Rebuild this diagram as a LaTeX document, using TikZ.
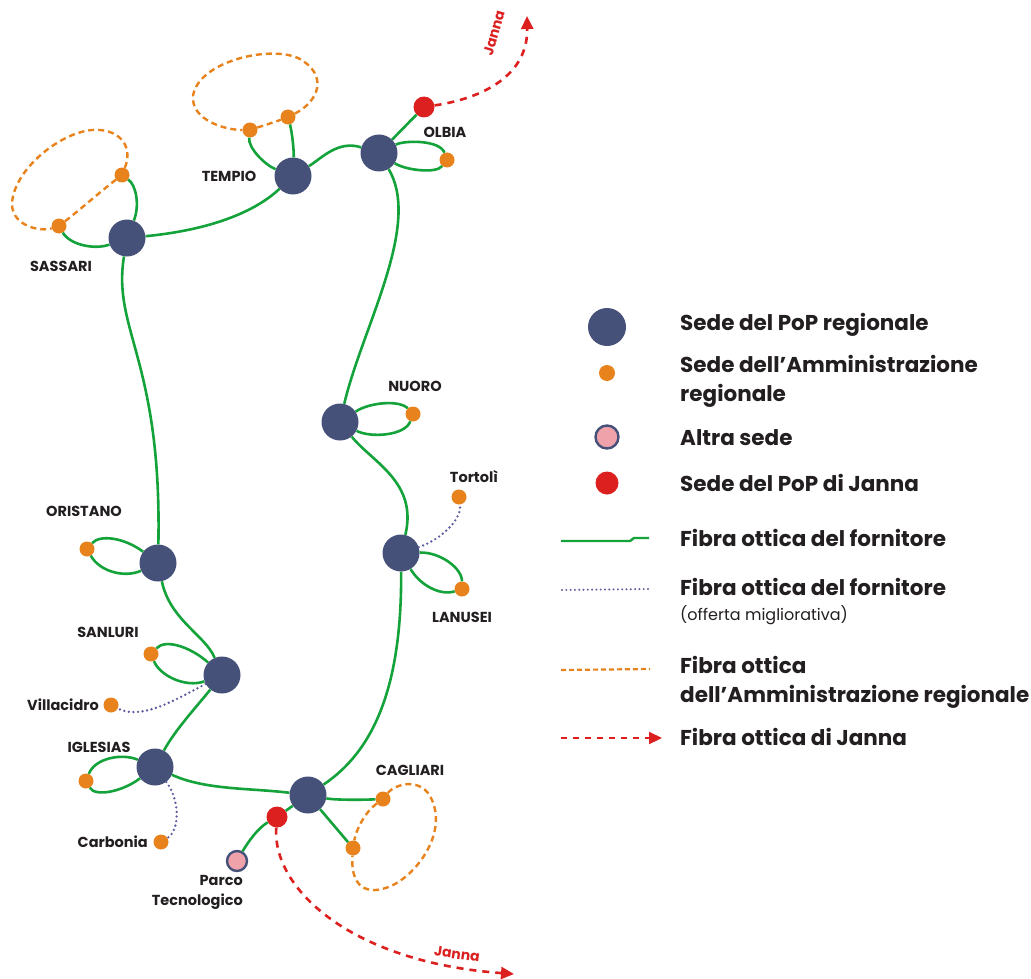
\documentclass[tikz,border=0pt]{standalone}
\usepackage{fontspec}
\setmainfont{Poppins}
\usetikzlibrary{arrows.meta}
\definecolor{popblue}{HTML}{46517A}
\definecolor{admorange}{HTML}{E8821C}
\definecolor{janred}{HTML}{DC1F1F}
\definecolor{altpink}{HTML}{F0A2AA}
\definecolor{fibgreen}{HTML}{14A23A}
\definecolor{impblue}{HTML}{5C5C9E}
\definecolor{ink}{HTML}{231F20}
\begin{document}
\begin{tikzpicture}[x=1pt,y=-1pt,
  pop/.style={circle,fill=popblue,minimum size=37pt,inner sep=0pt},
  adm/.style={circle,fill=admorange,minimum size=15pt,inner sep=0pt},
  jan/.style={circle,fill=janred,minimum size=21pt,inner sep=0pt},
  alt/.style={circle,fill=altpink,draw=popblue,line width=2.4pt,minimum size=20pt,inner sep=0pt},
  fib/.style={draw=fibgreen,line width=2.6pt},
  imp/.style={draw=impblue,line width=2.6pt,dash pattern=on 0pt off 4.6pt,line cap=round},
  ras/.style={draw=admorange,line width=2.4pt,dash pattern=on 6pt off 4pt},
  jln/.style={draw=janred,line width=2.6pt,dash pattern=on 7pt off 6pt,-{Triangle[length=13pt,width=12pt]}},
  lbl/.style={font=\fontsize{14.5}{16}\selectfont\bfseries,text=ink,inner sep=0pt},
  lgd/.style={font=\fontsize{21.5}{29}\selectfont\bfseries,text=ink,anchor=west,align=left,inner sep=0pt},
  lgdsub/.style={font=\fontsize{16}{20}\selectfont,text=ink,anchor=west,inner sep=0pt},
  jlbl/.style={font=\fontsize{14}{16}\selectfont\bfseries,text=janred,inner sep=0pt}]
\useasboundingbox (0,0) rectangle (1031,979);

% regional PoP sites
\node[pop] (sas) at (127,238) {};
\node[pop] (tem) at (293,176) {};
\node[pop] (olb) at (379,153) {};
\node[pop] (nuo) at (340,422) {};
\node[pop] (lan) at (401,553) {};
\node[pop] (ori) at (158,563) {};
\node[pop] (san) at (222,675) {};
\node[pop] (igl) at (155,767) {};
\node[pop] (cag) at (308,795) {};

% regional administration sites
\node[adm] (sas1) at (122,175) {};
\node[adm] (sas2) at (59,226) {};
\node[adm] (tem1) at (250,130) {};
\node[adm] (tem2) at (288,117) {};
\node[adm] (olb1) at (447,160) {};
\node[adm] (nuo1) at (413,414) {};
\node[adm] (tor)  at (459,497) {};
\node[adm] (lan1) at (462,589) {};
\node[adm] (ori1) at (87,549) {};
\node[adm] (san1) at (151,654) {};
\node[adm] (vil)  at (111,705) {};
\node[adm] (igl1) at (86,781) {};
\node[adm] (car)  at (161,842) {};
\node[adm] (cag1) at (383,799) {};
\node[adm] (cag2) at (353,848) {};

% Janna PoP sites and other site
\node[jan] (olbJ) at (424,107) {};
\node[jan] (cagJ) at (277,817) {};
\node[alt] (parco) at (237,861) {};

% supplier fibre backbone
\draw[fib] (sas) .. controls (210,230) and (255,212) .. (tem);
\draw[fib] (tem) .. controls (322,158) and (338,140) .. (olb);
\draw[fib] (sas) .. controls (112,330) and (162,360) .. (ori);
\draw[fib] (ori) .. controls (170,620) and (205,635) .. (san);
\draw[fib] (san) .. controls (198,705) and (175,730) .. (igl);
\draw[fib] (igl) .. controls (205,790) and (250,788) .. (cag);
\draw[fib] (cag) .. controls (372,752) and (402,690) .. (lan);
\draw[fib] (lan) .. controls (418,482) and (372,462) .. (nuo);
\draw[fib] (nuo) .. controls (362,328) and (422,225) .. (olb);
\draw[fib] (olb) -- (olbJ);
\draw[fib] (cag) -- (cagJ);
\draw[fib] (cagJ) .. controls (258,828) and (248,842) .. (parco);
\draw[fib] (cag) .. controls (335,800) and (360,800) .. (cag1);
\draw[fib] (cag) -- (cag2);

% supplier fibre to local sites
\draw[fib] (sas) .. controls (140,205) and (136,185) .. (sas1);
\draw[fib] (sas) .. controls (95,250) and (70,245) .. (sas2);
\draw[fib] (tem) .. controls (265,165) and (248,148) .. (tem1);
\draw[fib] (tem) .. controls (294,150) and (292,132) .. (tem2);
\draw[fib] (olb) .. controls (405,140) and (440,140) .. (olb1);
\draw[fib] (olb) .. controls (405,170) and (436,174) .. (olb1);
\draw[fib] (nuo) .. controls (370,402) and (400,400) .. (nuo1);
\draw[fib] (nuo) .. controls (370,438) and (405,436) .. (nuo1);
\draw[fib] (lan) .. controls (440,552) and (462,568) .. (lan1);
\draw[fib] (lan) .. controls (420,585) and (440,596) .. (lan1);
\draw[fib] (ori) .. controls (125,538) and (100,534) .. (ori1);
\draw[fib] (ori) .. controls (125,578) and (100,572) .. (ori1);
\draw[fib] (san) .. controls (192,648) and (166,638) .. (san1);
\draw[fib] (san) .. controls (186,688) and (160,676) .. (san1);
\draw[fib] (igl) .. controls (122,753) and (95,758) .. (igl1);
\draw[fib] (igl) .. controls (122,792) and (95,797) .. (igl1);

% improvement offer links
\draw[imp] (lan) .. controls (440,540) and (462,520) .. (tor);
\draw[imp] (san) .. controls (172,702) and (140,720) .. (vil);
\draw[imp] (igl) .. controls (180,800) and (180,830) .. (car);

% regional administration fibre rings
\draw[ras] (sas2) .. controls (82,208) and (100,192) .. (sas1);
\draw[ras] (sas1) .. controls (134,145) and (118,128) .. (92,130)
  .. controls (58,133) and (12,172) .. (12,205)
  .. controls (13,226) and (40,232) .. (sas2);
\draw[ras] (tem1) .. controls (262,126) and (275,122) .. (tem2);
\draw[ras] (tem2) .. controls (318,102) and (330,75) .. (298,58)
  .. controls (268,45) and (198,62) .. (193,96)
  .. controls (191,120) and (225,130) .. (tem1);
\draw[ras] (cag1) .. controls (365,812) and (356,830) .. (cag2);
\draw[ras] (cag1) .. controls (395,784) and (422,776) .. (432,800)
  .. controls (446,832) and (420,870) .. (395,884)
  .. controls (372,896) and (350,892) .. (cag2);

% Janna fibre
\draw[jln] (olbJ) .. controls (484,98) and (528,75) .. (527,16);
\draw[jln] (cagJ) .. controls (272,888) and (350,962) .. (514,974);
\node[jlbl,rotate=74] (janTop) at (494,33) {Janna};
\node[jlbl,rotate=-8] (janBot) at (457,954) {Janna};

% site names
\node[lbl] (tSas) at (61,266) {SASSARI};
\node[lbl] (tTem) at (229,176) {TEMPIO};
\node[lbl] (tOlb) at (445,132) {OLBIA};
\node[lbl] (tNuo) at (415,386) {NUORO};
\node[lbl] (tTor) at (474,477) {Tortolì};
\node[lbl] (tLan) at (462,617) {LANUSEI};
\node[lbl] (tOri) at (84,511) {ORISTANO};
\node[lbl] (tSan) at (108,632) {SANLURI};
\node[lbl,anchor=east] (tVil) at (99,705) {Villacidro};
\node[lbl] (tIgl) at (99,747) {IGLESIAS};
\node[lbl,anchor=east] (tCar) at (148,842) {Carbonia};
\node[lbl] (tCag) at (410,770) {CAGLIARI};
\node[lbl,anchor=east,align=right,font=\fontsize{14.5}{20}\selectfont\bfseries] (tPar) at (243,892) {Parco\\Tecnologico};

% legend
\node[pop,minimum size=38pt] (kPop) at (607,327) {};
\node[adm,minimum size=16pt] (kAdm) at (607,373) {};
\node[alt,minimum size=23pt] (kAlt) at (607,437) {};
\node[jan,minimum size=23pt] (kJan) at (607,483) {};
\node[lgd] (lPop) at (680,325) {Sede del PoP regionale};
\node[lgd] (lAdm) at (680,381) {Sede dell’Amministrazione\\regionale};
\node[lgd] (lAlt) at (680,438) {Altra sede};
\node[lgd] (lJan) at (680,483) {Sede del PoP di Janna};

\coordinate (kFibA) at (561,541);
\coordinate (kFibB) at (649,538);
\draw[fib,line width=2.4pt] (kFibA) -- (630,541) -- (634,538) -- (kFibB);
\node[lgd] (lFib) at (680,538) {Fibra ottica del fornitore};

\coordinate (kImpA) at (562,590);
\coordinate (kImpB) at (648,589);
\draw[imp,line width=2.2pt,dash pattern=on 0pt off 4.3pt] (kImpA) -- (kImpB);
\node[lgd] (lImp) at (680,587) {Fibra ottica del fornitore};
\node[lgdsub] (lImp2) at (680,615) {(offerta migliorativa)};

\coordinate (kRasA) at (561,670);
\coordinate (kRasB) at (650,669);
\draw[ras,line width=2.2pt,dash pattern=on 5pt off 3pt] (kRasA) -- (kRasB);
\node[lgd] (lRas) at (680,682) {Fibra ottica\\dell’Amministrazione regionale};

\coordinate (kJanA) at (561,738);
\coordinate (kJanB) at (662,738);
\draw[jln,line width=2.2pt,dash pattern=on 6pt off 6pt] (kJanA) -- (kJanB);
\node[lgd] (lJln) at (680,737) {Fibra ottica di Janna};
\end{tikzpicture}
\end{document}
